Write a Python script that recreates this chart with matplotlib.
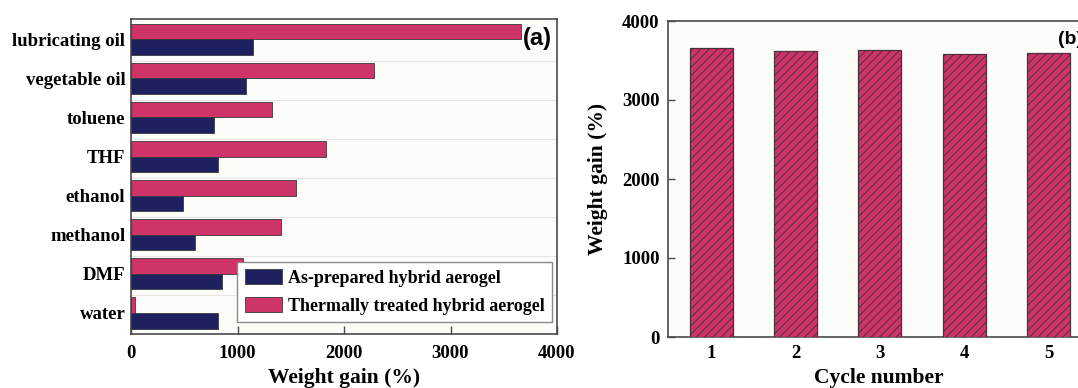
import matplotlib

matplotlib.use("Agg")

import matplotlib.pyplot as plt  # noqa: E402
import numpy as np  # noqa: E402

# Panel (a): absorption capacity per solvent
solvents = ["lubricating oil", "vegetable oil", "toluene", "THF",
            "ethanol", "methanol", "DMF", "water"]
as_prepared = [1150, 1080, 775, 820, 490, 600, 850, 820]
thermally_treated = [3660, 2280, 1325, 1830, 1550, 1405, 1050, 40]
legend_labels = ["As-prepared hybrid aerogel", "Thermally treated hybrid aerogel"]

# Panel (b): recyclability
cycles = [1, 2, 3, 4, 5]
cycle_gain = [3658, 3620, 3633, 3580, 3595]

NAVY = "#1f2060"
PINK = "#cf3468"
EDGE = "#3a3a3a"
SPINE = "#4a4a4a"
BG = "#fcfcf9"

plt.rcParams["font.family"] = ["Liberation Serif", "DejaVu Serif"]
plt.rcParams["font.weight"] = "bold"
plt.rcParams["hatch.linewidth"] = 0.7

W, H = 1078, 388
fig = plt.figure(figsize=(W / 100, H / 100), dpi=100)


def frac(x0, y0, x1, y1):
    """Pixel box (top-left origin) -> figure fraction rect."""
    return [x0 / W, 1 - y1 / H, (x1 - x0) / W, (y1 - y0) / H]


# ---------------- panel (a) ----------------
ax1 = fig.add_axes(frac(131, 19, 557, 334))
ax1.set_facecolor(BG)
y = np.arange(len(solvents))
bh = 0.4
ax1.barh(y - bh / 2, thermally_treated, height=bh, color=PINK,
         edgecolor=EDGE, linewidth=0.6, label=legend_labels[1], zorder=3)
ax1.barh(y + bh / 2, as_prepared, height=bh, color=NAVY,
         edgecolor=EDGE, linewidth=0.6, label=legend_labels[0], zorder=3)
for i in range(1, len(solvents)):
    ax1.axhline(i - 0.45, color="#e6e6e6", linewidth=0.8, zorder=1)
ax1.set_xlim(0, 4000)
ax1.set_ylim(7.54, -0.52)
ax1.set_yticks(y)
ax1.set_yticklabels(solvents, fontsize=13.5, fontweight="bold")
ax1.set_xticks([0, 1000, 2000, 3000, 4000])
ax1.tick_params(axis="x", direction="in", length=6, width=1, pad=8,
                labelsize=13.5, color=SPINE)
ax1.tick_params(axis="y", length=0, pad=4)
ax1.set_xlabel("Weight gain (%)", fontsize=15.5, fontweight="bold", labelpad=4)
for s in ax1.spines.values():
    s.set_color(SPINE)
    s.set_linewidth(1.2)

handles, labels = ax1.get_legend_handles_labels()
leg = ax1.legend(handles[::-1], labels[::-1], loc="lower right",
                 bbox_to_anchor=(0.988, 0.038), borderaxespad=0,
                 prop={"size": 13, "weight": "bold"}, frameon=True,
                 fancybox=False, edgecolor="#8a8a8a", framealpha=1,
                 handlelength=2.05, handleheight=0.95, handletextpad=0.35,
                 labelspacing=0.55, borderpad=0.4)
leg.get_frame().set_linewidth(1.0)

fig.text(552 / W, 1 - 39 / H, "(a)", ha="right", va="center",
         fontsize=17, fontweight="bold", family="Liberation Sans")

# ---------------- panel (b) ----------------
ax2 = fig.add_axes(frac(668, 21, 1090, 337))
ax2.set_facecolor(BG)
ax2.bar(cycles, cycle_gain, width=0.51, color=PINK, edgecolor="#4d3040",
        linewidth=0.9, hatch="////", zorder=3)
ax2.set_xlim(0.49, 5.49)
ax2.set_ylim(0, 4000)
ax2.set_xticks(cycles)
ax2.set_yticks([0, 1000, 2000, 3000, 4000])
ax2.tick_params(axis="both", direction="in", length=5, width=1, pad=6,
                labelsize=13.5, color=SPINE)
ax2.set_xlabel("Cycle number", fontsize=15.5, fontweight="bold", labelpad=4)
ax2.set_ylabel("Weight gain (%)", fontsize=15.5, fontweight="bold", labelpad=10)
for s in ax2.spines.values():
    s.set_color(SPINE)
    s.set_linewidth(1.2)

fig.text(1058 / W, 1 - 40 / H, "(b)", ha="left", va="center",
         fontsize=14, fontweight="bold", family="Liberation Sans")

fig.savefig("out.png", dpi=100)
